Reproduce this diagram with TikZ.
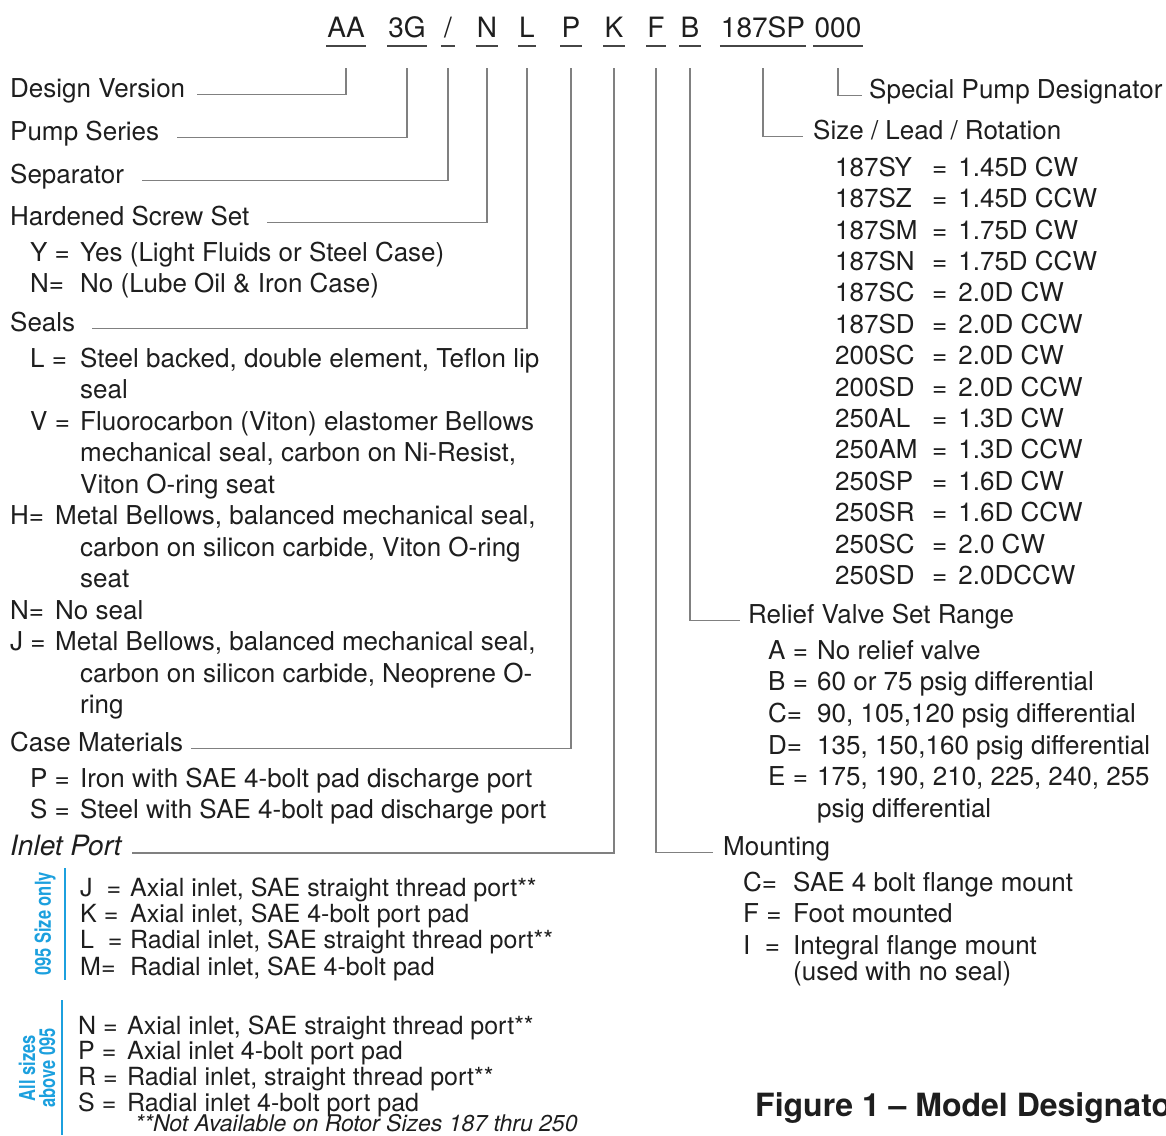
\documentclass[tikz,border=0pt]{standalone}
\usepackage{fontspec}
\setmainfont{TeX Gyre Heros}
\usepackage{graphicx}
\usetikzlibrary{positioning}
\definecolor{leadgray}{RGB}{128,128,128}
\definecolor{ulgray}{RGB}{70,70,70}
\definecolor{tagblue}{RGB}{28,160,222}
\definecolor{ink}{RGB}{30,30,30}

\begin{document}
\begin{tikzpicture}[x=1pt,y=-1pt,
  every node/.style={inner sep=0pt,text=ink,font=\fontsize{26}{31.5}\selectfont},
  code/.style={anchor=base,inner xsep=1pt,inner ysep=9pt,text depth=0pt,font=\fontsize{28}{30}\selectfont},
  head/.style={anchor=west,text height=0.72em,text depth=0.2em},
  list/.style={anchor=base west},
  lead/.style={draw=leadgray,line width=1.6pt},
  uline/.style={draw=ulgray,line width=1.8pt},
  tag/.style={rotate=90,text=tagblue,align=center,font=\fontsize{22}{20}\selectfont\bfseries},
  bar/.style={draw=tagblue,line width=1.6pt}]
\useasboundingbox (0,0) rectangle (1166,1135);

% model code
\node[code] (aa) at (346,37) {AA};
\node[code] (ser) at (407,37) {3G};
\node[code,minimum width=14pt] (sep) at (448,37) {/};
\node[code] (scr) at (487,37) {N};
\node[code] (seal) at (527,37) {L};
\node[code] (case) at (571,37) {P};
\node[code] (inl) at (614,37) {K};
\node[code] (mnt) at (656,37) {F};
\node[code] (rv) at (690,37) {B};
\node[code] (size) at (763,37) {187SP};
\node[code] (spec) at (838,37) {000};
\draw[uline] (aa.south west) -- (aa.south east) (ser.south west) -- (ser.south east)
  (sep.south west) -- (sep.south east) (scr.south west) -- (scr.south east)
  (seal.south west) -- (seal.south east) (case.south west) -- (case.south east)
  (inl.south west) -- (inl.south east) (mnt.south west) -- (mnt.south east)
  (rv.south west) -- (rv.south east) (size.south west) -- (size.south east)
  (spec.south west) -- (spec.south east);

% left column
\node[head] (dv) at (10,94.5) {Design Version};
\node[head] (ps) at (10,137.5) {Pump Series};
\node[head] (sp) at (10,180.5) {Separator};
\node[head] (hss) at (10,222.5) {Hardened Screw Set};
\node[list] (hssl) at (30,261.3) {\begin{tabular}[t]{@{}p{50pt}@{}l@{}}
  Y = & Yes (Light Fluids or Steel Case)\\
  N= & No (Lube Oil \& Iron Case)\end{tabular}};
\node[head] (sl) at (10,328.5) {Seals};
\node[list] (sll) at (10,367.3) {\begin{tabular}[t]{@{}l@{}}
  \hspace*{20pt}\makebox[50pt][l]{L =}Steel backed, double element, Teflon lip\\
  \hspace*{70pt}seal\\
  \hspace*{20pt}\makebox[50pt][l]{V =}Fluorocarbon (Viton) elastomer Bellows\\
  \hspace*{70pt}mechanical seal, carbon on Ni-Resist,\\
  \hspace*{70pt}Viton O-ring seat\\
  \makebox[45pt][l]{H=}Metal Bellows, balanced mechanical seal,\\
  \hspace*{70pt}carbon on silicon carbide, Viton O-ring\\
  \hspace*{70pt}seat\\
  \makebox[45pt][l]{N=}No seal\\
  \makebox[45pt][l]{J =}Metal Bellows, balanced mechanical seal,\\
  \hspace*{70pt}carbon on silicon carbide, Neoprene O-\\
  \hspace*{70pt}ring\end{tabular}};
\node[head] (cm) at (10,748.5) {Case Materials};
\node[list] (cml) at (30,787.3) {\begin{tabular}[t]{@{}p{50pt}@{}l@{}}
  P = & Iron with SAE 4-bolt pad discharge port\\
  S = & Steel with SAE 4-bolt pad discharge port\end{tabular}};
\node[head,font=\fontsize{28}{30}\selectfont\itshape] (ip) at (10,853) {Inlet Port};
\node[list,font=\fontsize{25}{26}\selectfont] (ipa) at (80,896) {\begin{tabular}[t]{@{}p{50pt}@{}l@{}}
  J \ = & Axial inlet, SAE straight thread port**\\
  K = & Axial inlet, SAE 4-bolt port pad\\
  L \ = & Radial inlet, SAE straight thread port**\\
  M= & Radial inlet, SAE 4-bolt pad\end{tabular}};
\node[list,font=\fontsize{25}{25}\selectfont] (ipb) at (78,1034) {\begin{tabular}[t]{@{}p{49pt}@{}l@{}}
  N = & Axial inlet, SAE straight thread port**\\
  P = & Axial inlet 4-bolt port pad\\
  R = & Radial inlet, straight thread port**\\
  S = & Radial inlet 4-bolt port pad\end{tabular}};
\node[list,font=\fontsize{23}{25}\selectfont\itshape] (fn) at (135,1131) {**Not Available on Rotor Sizes 187 thru 250};
\node[tag] (t95) at (45,924) {\scalebox{0.75}[1]{095 Size only}};
\node[tag] (tall) at (37,1068) {\scalebox{0.75}[1]{All sizes}\\\scalebox{0.75}[1]{above 095}};
\draw[bar] (65,868) -- (65,980);
\draw[bar] (62,1000) -- (62,1135);

% right column
\node[head] (spd) at (869,95.5) {Special Pump Designator};
\node[head] (slr) at (813,136.5) {Size / Lead / Rotation};
\node[list,font=\fontsize{26}{31.4}\selectfont] (slrl) at (835,176.3) {\begin{tabular}[t]{@{}p{97pt}@{}l@{\hspace{11pt}}l@{}}
  187SY & = & 1.45D CW\\
  187SZ & = & 1.45D CCW\\
  187SM & = & 1.75D CW\\
  187SN & = & 1.75D CCW\\
  187SC & = & 2.0D CW\\
  187SD & = & 2.0D CCW\\
  200SC & = & 2.0D CW\\
  200SD & = & 2.0D CCW\\
  250AL & = & 1.3D CW\\
  250AM & = & 1.3D CCW\\
  250SP & = & 1.6D CW\\
  250SR & = & 1.6D CCW\\
  250SC & = & 2.0 CW\\
  250SD & = & 2.0DCCW\end{tabular}};
\node[head] (rvs) at (748,620.5) {Relief Valve Set Range};
\node[list,font=\fontsize{26}{31.6}\selectfont] (rvsl) at (768,659.3) {\begin{tabular}[t]{@{}p{49pt}@{}l@{}}
  A = & No relief valve\\
  B = & 60 or 75 psig differential\\
  C= & 90, 105,120 psig differential\\
  D= & 135, 150,160 psig differential\\
  E = & 175, 190, 210, 225, 240, 255\\
   & psig differential\end{tabular}};
\node[head] (mt) at (723,852.5) {Mounting};
\node[list] (mtl) at (743,891.3) {\begin{tabular}[t]{@{}p{50pt}@{}l@{}}
  C= & SAE 4 bolt flange mount\\
  F = & Foot mounted\\
  I \ = & Integral flange mount\\[-5.5pt]
   & (used with no seal)\end{tabular}};
\node[head,font=\fontsize{32}{34}\selectfont\bfseries] (fig) at (755,1114) {Figure 1 – Model Designator};

% leaders
\draw[lead] ([yshift=-22pt]aa.south) |- ([xshift=12pt]dv.east);
\draw[lead] ([yshift=-22pt]ser.south) |- ([xshift=18pt]ps.east);
\draw[lead] ([yshift=-22pt]sep.south) |- ([xshift=18pt]sp.east);
\draw[lead] ([yshift=-22pt]scr.south) |- ([xshift=17pt]hss.east);
\draw[lead] ([yshift=-22pt]seal.south) |- ([xshift=17pt]sl.east);
\draw[lead] ([yshift=-22pt]case.south) |- ([xshift=8pt]cm.east);
\draw[lead] ([yshift=-22pt]inl.south) |- ([xshift=10pt]ip.east);
\draw[lead] ([yshift=-22pt]mnt.south) |- ([xshift=-10pt]mt.west);
\draw[lead] ([yshift=-22pt]rv.south) |- ([xshift=-8pt]rvs.west);
\draw[lead] ([yshift=-22pt]size.south) |- ([xshift=-10pt]slr.west);
\draw[lead] ([yshift=-22pt]spec.south) |- ([xshift=-7pt]spd.west);
\end{tikzpicture}
\end{document}
